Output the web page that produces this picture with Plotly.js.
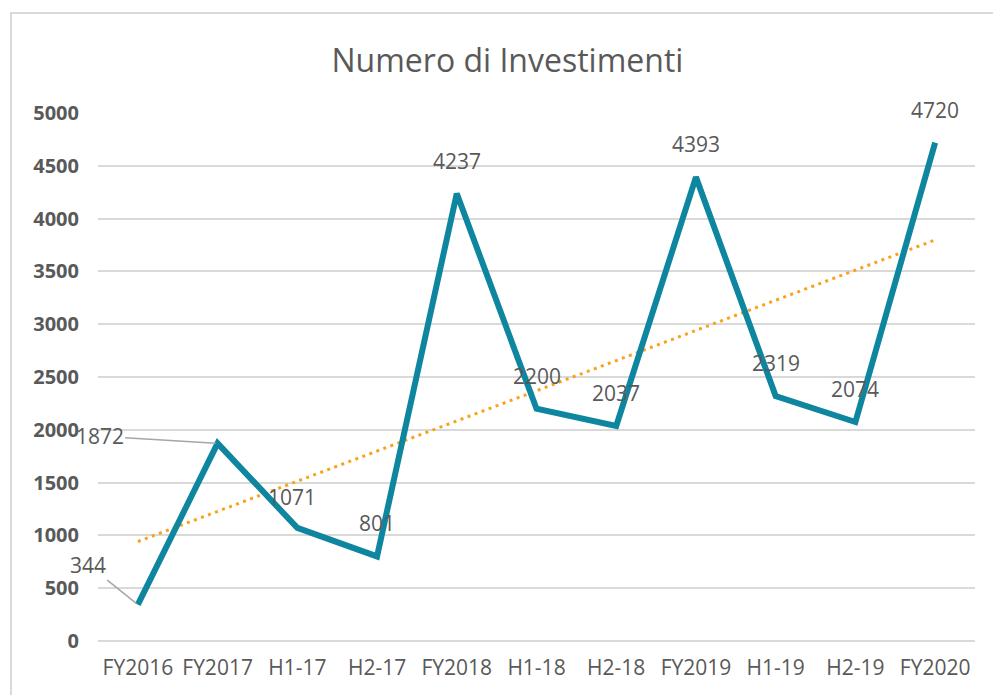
<!DOCTYPE html>
<html>
<head>
<meta charset="utf-8">
<script src="https://cdn.plot.ly/plotly-3.0.1.min.js"></script>
<style>
  html, body { margin: 0; padding: 0; background: #fff; overflow: hidden; }
  #chart { width: 993px; height: 695px; }
  #frame { position: absolute; left: 10px; top: 12px; width: 1100px; height: 800px;
           border-left: 2px solid #d9d9d9; border-top: 2px solid #d9d9d9; pointer-events: none; }
</style>
</head>
<body>
<div id="chart"></div>
<div id="frame"></div>
<script>
const categories = ["FY2016", "FY2017", "H1-17", "H2-17", "FY2018", "H1-18", "H2-18", "FY2019", "H1-19", "H2-19", "FY2020"];
const investimenti = [344, 1872, 1071, 801, 4237, 2200, 2037, 4393, 2319, 2074, 4720];
const yTicks = [0, 500, 1000, 1500, 2000, 2500, 3000, 3500, 4000, 4500, 5000];

// Linear trendline (least squares over category index), as Excel computes it
const n = investimenti.length;
const idx = investimenti.map((_, i) => i);
const mx = idx.reduce((a, b) => a + b, 0) / n;
const my = investimenti.reduce((a, b) => a + b, 0) / n;
let sxy = 0, sxx = 0;
for (let i = 0; i < n; i++) { sxy += (i - mx) * (investimenti[i] - my); sxx += (i - mx) * (i - mx); }
const slope = sxy / sxx, intercept = my - slope * mx;
const trend = idx.map(i => intercept + slope * i);

const FONT = "Open Sans, Noto Sans, sans-serif";
const GREY = "#595959";

const traces = [
  {
    x: categories, y: trend, type: "scatter", mode: "lines",
    line: { color: "#F9A21B", width: 3, dash: "3px,4.5px" },
    hoverinfo: "skip", showlegend: false
  },
  {
    x: categories, y: investimenti, type: "scatter", mode: "lines",
    line: { color: "#0E86A0", width: 6 },
    showlegend: false
  }
];

// label placement (pixel offsets only)
const labelOffsets = {
  "FY2016": { ax: -50, ay: -40, arrow: true },
  "FY2017": { ax: -118, ay: -7, arrow: true },
  "H1-17": { xs: -5, ys: 31 }
};
const annotations = categories.map((c, i) => {
  const o = labelOffsets[c] || { xs: 0, ys: 33 };
  const base = {
    x: c, y: investimenti[i], xref: "x", yref: "y",
    text: String(investimenti[i]),
    font: { family: FONT, size: 21, color: GREY }
  };
  if (o.arrow) {
    return Object.assign(base, {
      showarrow: true, ax: o.ax, ay: o.ay, axref: "pixel", ayref: "pixel",
      arrowhead: 0, arrowwidth: 1.5, arrowcolor: "#a6a6a6", standoff: 2
    });
  }
  return Object.assign(base, {
    showarrow: false, xanchor: "center", yanchor: "middle",
    xshift: o.xs, yshift: o.ys
  });
});

const layout = {
  width: 993, height: 695,
  margin: { l: 98, r: 18, t: 113, b: 54 },
  paper_bgcolor: "#ffffff", plot_bgcolor: "#ffffff",
  title: {
    text: "Numero di Investimenti",
    font: { family: FONT, size: 32, color: GREY },
    x: 0.511, xanchor: "center", y: 0.913, yanchor: "middle"
  },
  xaxis: {
    type: "category", range: [-0.5, categories.length - 0.5],
    showgrid: false, zeroline: false, showline: false,
    tickfont: { family: FONT, size: 21, color: GREY },
    ticks: "", ticklabelstandoff: 12, automargin: false
  },
  yaxis: {
    range: [0, 5000], tickvals: yTicks, ticktext: yTicks.map(String),
    showgrid: true, gridcolor: "#d9d9d9", gridwidth: 2,
    zeroline: true, zerolinecolor: "#d9d9d9", zerolinewidth: 2,
    showline: false, ticks: "", ticklabelstandoff: 18, automargin: false,
    tickfont: { family: FONT, size: 20, color: GREY, weight: "bold" }
  },
  annotations: annotations,
  showlegend: false
};

Plotly.newPlot("chart", traces, layout, { displayModeBar: false, staticPlot: true });
</script>
</body>
</html>
